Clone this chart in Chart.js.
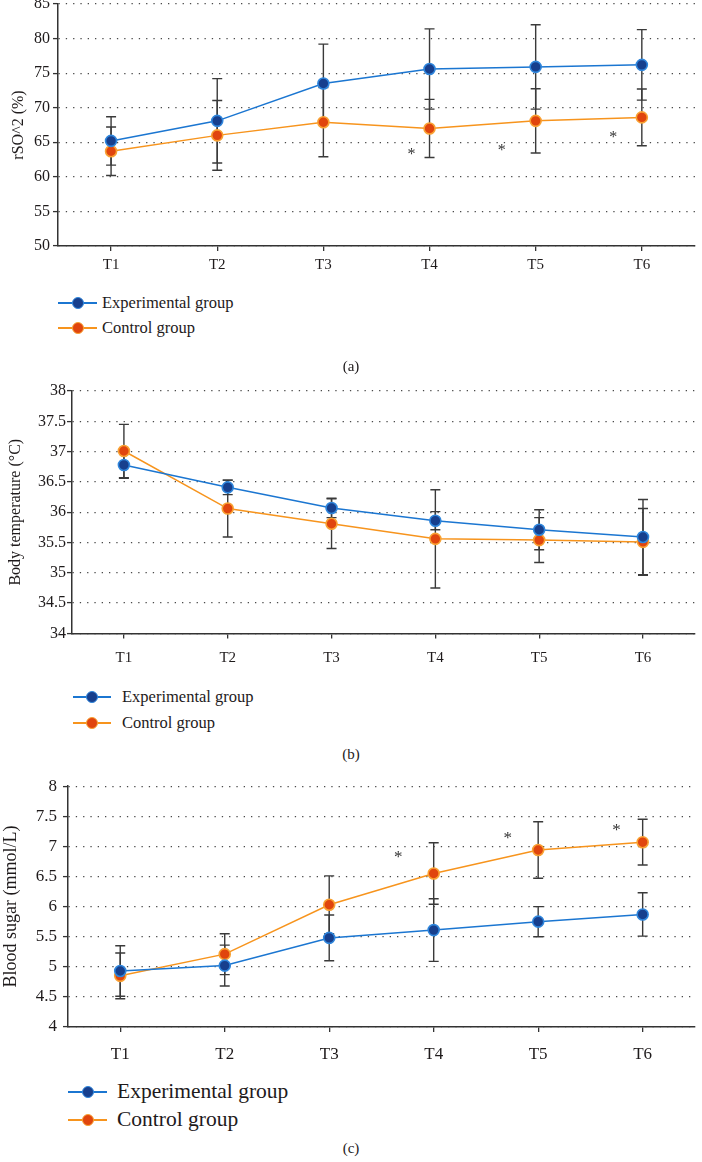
<!DOCTYPE html>
<html><head><meta charset="utf-8">
<script src="https://cdn.jsdelivr.net/npm/chart.js@4.4.1/dist/chart.umd.min.js"></script>
<style>
html,body{margin:0;padding:0;background:#fff;width:702px;height:1162px;overflow:hidden;position:relative;font-family:'Liberation Serif',serif;color:#231f20}
canvas{position:absolute;left:0}
.abs{position:absolute;white-space:nowrap}
</style></head>
<body>
<canvas id="ca" width="702" height="290" style="top:-10px"></canvas>
<canvas id="cb" width="702" height="300" style="top:371px"></canvas>
<canvas id="cc" width="702" height="300" style="top:770px"></canvas>
<script>
// ---------- DATA ----------
const categories = ['T1','T2','T3','T4','T5','T6'];
const seriesNames = ['Experimental group','Control group'];

const rso2Exp     = [65.2, 68.1, 73.5, 75.6, 75.9, 76.2];
const rso2ExpErr  = [3.5, 6.1, 5.7, 5.8, 6.1, 5.1];
const rso2Ctrl    = [63.7, 66.0, 67.9, 67.0, 68.1, 68.6];
const rso2CtrlErr = [3.5, 5.05, 5.0, 4.2, 4.65, 4.1];
const rso2StarIdx   = [3, 4, 5];
const rso2StarShift = [-0.17, -0.32, -0.27];
const rso2StarY     = [63.7, 64.2, 66.2];

const tempExp     = [36.78, 36.41, 36.07, 35.86, 35.71, 35.59];
const tempExpErr  = [0.22, 0.12, 0.16, 0.15, 0.33, 0.62];
const tempCtrl    = [37.01, 36.06, 35.81, 35.56, 35.54, 35.51];
const tempCtrlErr = [0.44, 0.47, 0.41, 0.81, 0.37, 0.55];

const sugarExp     = [4.93, 5.02, 5.48, 5.61, 5.75, 5.87];
const sugarExpErr  = [0.42, 0.34, 0.38, 0.52, 0.25, 0.36];
const sugarCtrl    = [4.85, 5.21, 6.03, 6.55, 6.94, 7.07];
const sugarCtrlErr = [0.38, 0.34, 0.48, 0.51, 0.47, 0.38];
const sugarStarIdx   = [3, 4, 5];
const sugarStarShift = [-0.34, -0.29, -0.25];
const sugarStarY     = [6.88, 7.19, 7.33];

// ---------- STYLE ----------
const FONT = "'Liberation Serif', serif";
const TXT = '#1e1a1b';
const AX = '#333333';
const EXP = {line:'#1b76d1', fill:'#173f8d', border:'#2f86dc'};
const CTL = {line:'#f7941d', fill:'#e0450e', border:'#f9a233'};

Chart.defaults.font.family = FONT;
Chart.defaults.color = TXT;

function ds(label, data, err, c){
  return {label, data, errors: err, borderColor:c.line, backgroundColor:c.fill,
    pointBackgroundColor:c.fill, pointBorderColor:c.border, pointRadius:5.5,
    pointBorderWidth:1.6, borderWidth:1.5, tension:0, clip:false};
}

function build(id, o){
  const errorBars = {
    id:'errorBars',
    beforeDatasetsDraw(chart){
      const {ctx, scales:{x, y}} = chart;
      ctx.save(); ctx.strokeStyle = '#3a3a3a'; ctx.lineWidth = 1.4;
      chart.data.datasets.forEach(d => {
        d.errors.forEach((e, i) => {
          const px = x.getPixelForValue(i);
          const t = y.getPixelForValue(d.data[i] + e);
          const b = y.getPixelForValue(d.data[i] - e);
          ctx.beginPath();
          ctx.moveTo(px, t); ctx.lineTo(px, b);
          ctx.moveTo(px - 5, t); ctx.lineTo(px + 5, t);
          ctx.moveTo(px - 5, b); ctx.lineTo(px + 5, b);
          ctx.stroke();
        });
      });
      ctx.restore();
    }
  };
  const stars = {
    id:'stars',
    afterDatasetsDraw(chart){
      if(!o.stars) return;
      const {ctx, scales:{x, y}} = chart;
      ctx.save(); ctx.fillStyle = '#333'; ctx.font = o.starSize + 'px ' + FONT;
      ctx.textAlign = 'center'; ctx.textBaseline = 'alphabetic';
      o.stars.idx.forEach((ix, k) => {
        const x0 = x.getPixelForValue(ix), x1 = x.getPixelForValue(ix + 1);
        const px = x0 + (x1 - x0) * o.stars.shift[k];
        const py = y.getPixelForValue(o.stars.y[k]);
        ctx.fillText('*', px, py + o.starSize * 0.48);
      });
      ctx.restore();
    }
  };
  return new Chart(document.getElementById(id), {
    type:'line',
    data:{labels: categories, datasets:[ds(seriesNames[0], o.exp, o.expErr, EXP), ds(seriesNames[1], o.ctl, o.ctlErr, CTL)]},
    options:{
      responsive:false, animation:false, devicePixelRatio:1,
      layout:{padding:{top:o.padTop, right:o.padRight, left:0, bottom:0}},
      plugins:{legend:{display:false}, tooltip:{enabled:false}},
      scales:{
        x:{type:'category', offset:true,
          grid:{display:true, drawOnChartArea:false, drawTicks:true, tickLength:5, offset:false, color:AX, lineWidth:1.3},
          border:{display:true, color:AX, width:1.5},
          ticks:{color:TXT, font:{family:FONT, size:o.xFont}, padding:o.xPad, maxRotation:0},
          afterFit(s){ s.height = o.xH; }
        },
        y:{min:o.min, max:o.max,
          ticks:{stepSize:o.step, color:TXT, font:{family:FONT, size:o.yFont}, padding:o.yPad,
            callback:(v)=> String(v)},
          grid:{color:'#4a4a4a', lineWidth:1.2, drawTicks:true, tickLength:5, tickColor:AX, tickWidth:1.3, tickBorderDash:[]},
          border:{display:true, color:AX, width:1.5, dash:[1.3, 6]},
          title:{display:true, text:o.title, color:TXT, font:{family:FONT, size:o.tFont}, padding:{top:o.tPad, bottom:0}},
          afterFit(s){ s.width = o.yW; }
        }
      }
    },
    plugins:[errorBars, stars]
  });
}

build('ca', {exp:rso2Exp, expErr:rso2ExpErr, ctl:rso2Ctrl, ctlErr:rso2CtrlErr,
  min:50, max:85, step:5, title:'rSO^2 (%)', padTop:14, padRight:2, yW:58, xH:34,
  xFont:15, xPad:5, yFont:16, yPad:3, tFont:16, tPad:9, starSize:16,
  stars:{idx:rso2StarIdx, shift:rso2StarShift, y:rso2StarY}});
build('cb', {exp:tempExp, expErr:tempExpErr, ctl:tempCtrl, ctlErr:tempCtrlErr,
  min:34, max:38, step:0.5, title:'Body temperature (°C)', padTop:20, padRight:6, yW:72, xH:37.6,
  xFont:15, xPad:11, yFont:16, yPad:1, tFont:16, tPad:6, starSize:16, stars:null});
build('cc', {exp:sugarExp, expErr:sugarExpErr, ctl:sugarCtrl, ctlErr:sugarCtrlErr,
  min:4, max:8, step:0.5, title:'Blood sugar (mmol/L)', padTop:15, padRight:0, yW:68, xH:43,
  xFont:17, xPad:12, yFont:17, yPad:6, tFont:18, tPad:0, starSize:17,
  stars:{idx:sugarStarIdx, shift:sugarStarShift, y:sugarStarY}});

// ---------- HTML legends & captions ----------
function el(css, html){
  const d = document.createElement('div'); d.className = 'abs';
  Object.assign(d.style, css); if(html) d.textContent = html;
  document.body.appendChild(d); return d;
}
function legendItem(y, x0, len, tx, fs, c, label){
  el({left:x0+'px', top:(y-0.75)+'px', width:len+'px', height:'1.5px', background:c.line});
  el({left:(x0+len/2-6)+'px', top:(y-6)+'px', width:'12px', height:'12px', boxSizing:'border-box',
      borderRadius:'50%', background:c.fill, border:'1.6px solid '+c.border});
  el({left:tx+'px', top:(y - fs*0.62)+'px', fontSize:fs+'px', lineHeight:(fs*1.2)+'px', color:TXT}, label);
}
legendItem(303, 58, 39, 102, 16.5, EXP, seriesNames[0]);
legendItem(328, 58, 39, 102, 16.5, CTL, seriesNames[1]);
legendItem(697, 73, 38, 122, 16.5, EXP, seriesNames[0]);
legendItem(723, 73, 38, 122, 16.5, CTL, seriesNames[1]);
legendItem(1092, 68, 39, 117, 21.5, EXP, seriesNames[0]);
legendItem(1120, 68, 39, 117, 21.5, CTL, seriesNames[1]);

function caption(y, t){ el({left:'0px', width:'702px', textAlign:'center', top:(y-9)+'px', fontSize:'15px', lineHeight:'18px', color:TXT}, t); }
caption(366, '(a)');
caption(754, '(b)');
caption(1148, '(c)');
</script>
</body></html>
